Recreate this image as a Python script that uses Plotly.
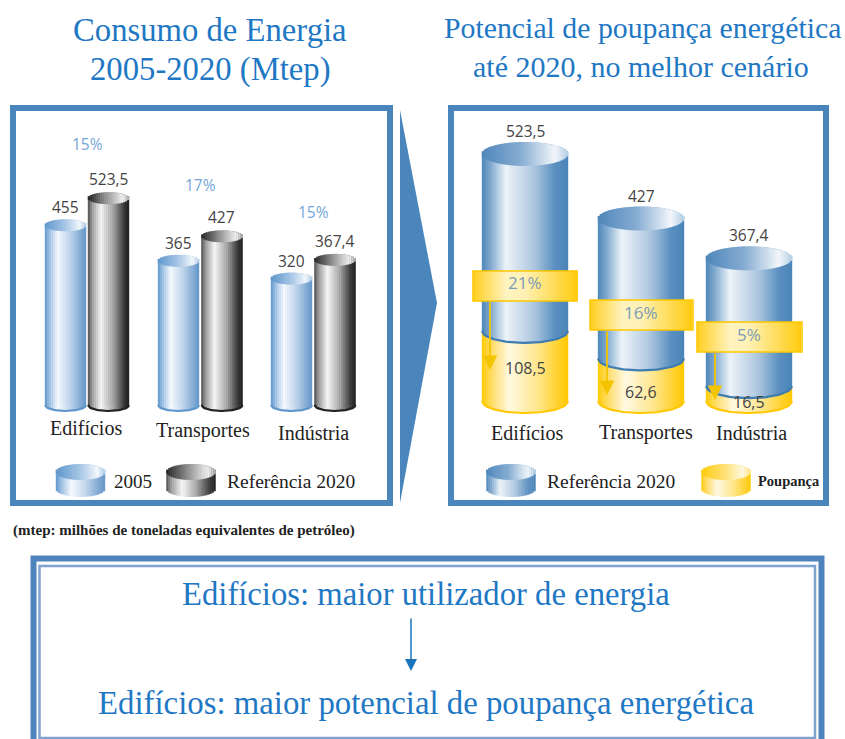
import math
import plotly.graph_objects as go

# ---------- data ----------
CATEGORIES = ["Edifícios", "Transportes", "Indústria"]
VALUES_2005 = [455, 365, 320]
VALUES_2020 = [523.5, 427, 367.4]
GROWTH_PCT = [15, 17, 15]
SAVINGS = [108.5, 62.6, 16.5]
SAVINGS_PCT = [21, 16, 5]

# ---------- layout constants (pixels) ----------
W, H = 845, 739
L_BLUE_CX = [65.5, 178.5, 291.5]
L_GRAY_CX = [108.5, 222, 335]
L_W, L_E, L_P0, L_K = 41, 6, 405, 0.395
R_CX = [525, 641, 749]
R_W, R_E = 86, 12
R_BASE_PX = 401
B_K, B_V0 = 0.6687, 154.1
Y_K, Y_P0 = 0.6, 396
BAND_TOP = [271, 300, 322]
BAND_H = 30
BAND_X = [(473, 577), (590, 693), (697, 802)]
BAND_ARROW_X = [490, 607, 715]
BAND_ARROW_END = [370, 395, 400]

FRAME = "#4A86BC"
TITLE = "#1F78C4"
BODY_BLUE_L = [(0, "#5F97CC"), (.12, "#A0C2E4"), (.32, "#F6F9FD"), (.6, "#C2D6EC"), (1, "#6596C8")]
FACE_BLUE_L = [(0, "#5F97CC"), (.45, "#9CBFE2"), (.85, "#F2F7FC"), (1, "#B0CBE6")]
BODY_GRAY = [(0, "#4A4A4A"), (.1, "#9A9A9A"), (.32, "#F6F6F6"), (.62, "#A6A6A6"), (.9, "#333333"), (1, "#1E1E1E")]
FACE_GRAY = [(0, "#222222"), (.4, "#888888"), (.85, "#F0F0F0"), (1, "#AAAAAA")]
BODY_BLUE_R = [(0, "#4F86BA"), (.1, "#7FA8CE"), (.28, "#EDF3F9"), (.6, "#AFC8E0"), (.85, "#5B90C0"), (1, "#4A84B8")]
FACE_BLUE_R = [(0, "#4F86BA"), (.45, "#86ADD2"), (.85, "#F2F6FB"), (1, "#B4CEE4")]
BODY_YEL = [(0, "#FFCB05"), (.12, "#FFDD6A"), (.32, "#FFF9E2"), (.65, "#FFE68E"), (1, "#FFC800")]
FACE_YEL = [(0, "#FFCB05"), (.5, "#FFE27A"), (.85, "#FFF9E2"), (1, "#FFE68E")]
BAND = [(0, "#FFCE1E"), (.32, "#FFF3C0"), (.5, "#FFF1B4"), (1, "#FFCB10")]


def grad(stops, t):
    for (a, ca), (b, cb) in zip(stops, stops[1:]):
        if t <= b:
            f = (t - a) / (b - a)
            c = [round(int(ca[i:i+2], 16) * (1 - f) + int(cb[i:i+2], 16) * f) for i in (1, 3, 5)]
            return "rgb(%d,%d,%d)" % tuple(c)
    return stops[-1][1]


def strips(cx, w, e):
    n = max(int(w / 2), 8)
    out = []
    for i in range(n):
        t = (i + .5) / n
        u = 2 * t - 1
        out.append((cx - w / 2 + t * w, w / n * 1.2, e * math.sqrt(max(0, 1 - u * u)), t))
    return out


def fr(px):
    return 1 - px / H


def add_cyl(fig, cx, w, e, k, y0, y1, body, face, rim, yaxis, with_top=True):
    """y0 / y1: axis values of the lower and upper cylinder centres."""
    s = strips(cx, w, e)
    low = [y0 - a / k for _, _, a, _ in s]
    up = [(y1 + a / k) if with_top else y1 for _, _, a, _ in s]
    fig.add_trace(go.Bar(x=[p[0] for p in s], y=[b - a for a, b in zip(low, up)], base=low,
                         width=[p[1] for p in s], marker=dict(color=[grad(body, p[3]) for p in s], line_width=0),
                         yaxis=yaxis, showlegend=False, hoverinfo="skip"))
    if with_top:
        bs = [y1 - p[2] / k for p in s]
        fig.add_trace(go.Bar(x=[p[0] for p in s], y=[2 * p[2] / k for p in s], base=bs,
                             width=[p[1] for p in s], marker=dict(color=[grad(face, p[3]) for p in s], line_width=0),
                             yaxis=yaxis, showlegend=False, hoverinfo="skip"))
    xs = [cx - w / 2 + w * i / 40 for i in range(41)]
    ys = [y0 - e * math.sqrt(max(0, 1 - (2 * i / 40 - 1) ** 2)) / k for i in range(41)]
    fig.add_trace(go.Scatter(x=xs, y=ys, mode="lines", line=dict(color=rim, width=2.2), yaxis=yaxis,
                             showlegend=False, hoverinfo="skip"))


def fmt(v):
    return f"{v:g}".replace(".", ",")


fig = go.Figure()

# --- left panel: real series bars, then gradient dressing on the same scale
fig.add_trace(go.Bar(x=L_BLUE_CX, y=VALUES_2005, width=L_W, name="2005", marker=dict(color="#A9C8E6", line_width=0), yaxis="y"))
fig.add_trace(go.Bar(x=L_GRAY_CX, y=VALUES_2020, width=L_W, name="Referência 2020", marker=dict(color="#888888", line_width=0), yaxis="y"))
for cx, v in zip(L_BLUE_CX, VALUES_2005):
    add_cyl(fig, cx, L_W, L_E, L_K, 0, v, BODY_BLUE_L, FACE_BLUE_L, "#5F97CC", "y")
for cx, v in zip(L_GRAY_CX, VALUES_2020):
    add_cyl(fig, cx, L_W, L_E, L_K, 0, v, BODY_GRAY, FACE_GRAY, "#222222", "y")

# --- right panel
fig.add_trace(go.Bar(x=R_CX, y=VALUES_2020, width=R_W, name="Referência 2020", marker=dict(color="#7FA8CE", line_width=0), yaxis="y2"))
fig.add_trace(go.Bar(x=R_CX, y=SAVINGS, width=R_W, name="Poupança", marker=dict(color="#FFE68E", line_width=0), yaxis="y3"))
for cx, s in zip(R_CX, SAVINGS):
    add_cyl(fig, cx, R_W, R_E, Y_K, (Y_P0 - R_BASE_PX) / Y_K, s, BODY_YEL, FACE_YEL, "#FFC800", "y3", with_top=False)
for cx, v, s in zip(R_CX, VALUES_2020, SAVINGS):
    px_bottom = Y_P0 - Y_K * s
    y0 = (R_BASE_PX - px_bottom) / B_K + B_V0
    add_cyl(fig, cx, R_W, R_E, B_K, y0, v, BODY_BLUE_R, FACE_BLUE_R, "#3F7CB0", "y4")

# --- axes
hid = dict(visible=False, fixedrange=True)
fig.update_layout(
    barmode="overlay", width=W, height=H, autosize=False, margin=dict(l=0, r=0, t=0, b=0, pad=0),
    paper_bgcolor="white", plot_bgcolor="rgba(0,0,0,0)", showlegend=False,
    xaxis=dict(range=[0, W], domain=[0, 1], **hid),
    yaxis=dict(range=[(L_P0 - 520) / L_K, L_P0 / L_K], domain=[fr(520), 1], anchor="x", **hid),
    yaxis2=dict(range=[B_V0, R_BASE_PX / B_K + B_V0], domain=[fr(R_BASE_PX), 1], anchor="x", **hid),
    yaxis3=dict(range=[(Y_P0 - 416) / Y_K, Y_P0 / Y_K], domain=[fr(416), 1], anchor="x", **hid),
    yaxis4=dict(range=[B_V0, R_BASE_PX / B_K + B_V0], domain=[fr(R_BASE_PX), 1], anchor="x", **hid),
)

# --- shapes
shapes = []


def rect(x0, y0, x1, y1, color=None, line=None, lw=0):
    shapes.append(dict(type="rect", xref="paper", yref="paper", x0=x0 / W, x1=x1 / W, y0=fr(y0), y1=fr(y1),
                       fillcolor=color or "rgba(0,0,0,0)", line=dict(color=line or "rgba(0,0,0,0)", width=lw)))


def swatch(cx, w, e, ytop, ybot, body, face):
    for x, sw, a, t in strips(cx, w, e):
        rect(x - sw / 2, ybot + a, x + sw / 2, ytop - a, color=grad(body, t))
    for x, sw, a, t in strips(cx, w, e):
        rect(x - sw / 2, ytop + a, x + sw / 2, ytop - a, color=grad(face, t))


rect(13, 108, 390, 503, line=FRAME, lw=6)
rect(451, 108, 826, 503, line=FRAME, lw=6)
shapes.append(dict(type="path", xref="paper", yref="paper", line=dict(width=0), fillcolor=FRAME,
                   path=f"M {400/W} {fr(110)} L {437/W} {fr(303)} L {400/W} {fr(503)} Z"))
rect(33.5, 558.5, 821.5, 745, line="#4F83BE", lw=6)
rect(39.5, 566, 815, 738, line="#7FA3D0", lw=2.5)

for (x0, x1), top in zip(BAND_X, BAND_TOP):
    n = int((x1 - x0) / 2)
    for i in range(n):
        t = (i + .5) / n
        rect(x0 + i * 2, top, x0 + (i + 1) * 2 + .4, top + BAND_H, color=grad(BAND, t))
    rect(x0, top, x1, top + BAND_H, line="#FFC800", lw=1.5)

swatch(80.5, 49, 8, 472, 489, BODY_BLUE_L, FACE_BLUE_L)
swatch(191, 49, 8, 472, 489, BODY_GRAY, FACE_GRAY)
swatch(511, 49, 8, 472, 489, BODY_BLUE_R, FACE_BLUE_R)
swatch(726, 49, 8, 472, 489, BODY_YEL, FACE_YEL)
fig.update_layout(shapes=shapes)

# --- text
ann = []


def text(x, y, s, size, color, font="Liberation Serif", anchor="center"):
    ann.append(dict(x=x / W, y=fr(y), xref="paper", yref="paper", text=s, showarrow=False, xanchor=anchor,
                    yanchor="middle", font=dict(family=font, size=size, color=color)))


def arrow(x, y0, y1, color, width, size):
    ann.append(dict(x=x / W, y=fr(y1), xref="paper", yref="paper", text="", showarrow=True, ax=0, ay=y0 - y1,
                    arrowhead=2, arrowsize=size, arrowwidth=width, arrowcolor=color, standoff=0, startstandoff=0))


text(210, 30, "Consumo de Energia", 32.7, TITLE)
text(210, 69, "2005-2020 (Mtep)", 32.7, TITLE)
text(642, 28, "Potencial de poupança energética", 29.8, TITLE)
text(641, 67, "até 2020, no melhor cenário", 30, TITLE)
text(426, 594, "Edifícios: maior utilizador de energia", 32.7, TITLE)
text(426.5, 703, "Edifícios: maior potencial de poupança energética", 32.8, TITLE)
arrow(411, 617, 671, "#1A75BD", 1.5, 1.6)
text(183.5, 530, "<b>(mtep: milhões de toneladas equivalentes de petróleo)</b>", 15, "#222222")

SANS = "Open Sans"
LAB = "#444444"
L_CAT_Y = [428, 430, 433]
L_CAT_X = [86, 203, 313]
R_CAT_Y = [433, 432, 433]
R_CAT_X = [527, 646, 751]
PCT_Y = [144, 185, 212]
PCT_X = [87, 200, 313]
SAVE_Y = [368, 392, 402]
for i, c in enumerate(CATEGORIES):
    text(L_CAT_X[i], L_CAT_Y[i], c, 20, "#222222")
    text(R_CAT_X[i], R_CAT_Y[i], c, 20, "#222222")
    text(L_BLUE_CX[i], L_P0 - L_K * VALUES_2005[i] - 18, fmt(VALUES_2005[i]), 15.5, LAB, SANS)
    text(L_GRAY_CX[i], L_P0 - L_K * VALUES_2020[i] - 19, fmt(VALUES_2020[i]), 15.5, LAB, SANS)
    text(PCT_X[i], PCT_Y[i], f"{GROWTH_PCT[i]}%", 15.5, "#74A6D8", SANS)
    text(R_CX[i], R_BASE_PX - B_K * (VALUES_2020[i] - B_V0) - 23, fmt(VALUES_2020[i]), 15.5, LAB, SANS)
    text(R_CX[i], BAND_TOP[i] + 12, f"{SAVINGS_PCT[i]}%", 17, "#7C9CB8", SANS)
    text(R_CX[i], SAVE_Y[i], fmt(SAVINGS[i]), 16, LAB, SANS)
    arrow(BAND_ARROW_X[i], BAND_TOP[i] + BAND_H, BAND_ARROW_END[i], "#F5C400", 1.8, 1.6)

text(112, 481, "2005", 19, "#222222", anchor="left")
text(225, 481, "Referência 2020", 19.5, "#222222", anchor="left")
text(545, 481, "Referência 2020", 19.5, "#222222", anchor="left")
text(756, 481, "<b>Poupança</b>", 14.5, "#222222", anchor="left")
fig.update_layout(annotations=ann)

fig.write_html("out.html", config=dict(displayModeBar=False),
               post_script="document.body.style.margin='0';document.documentElement.style.overflow='hidden';")
